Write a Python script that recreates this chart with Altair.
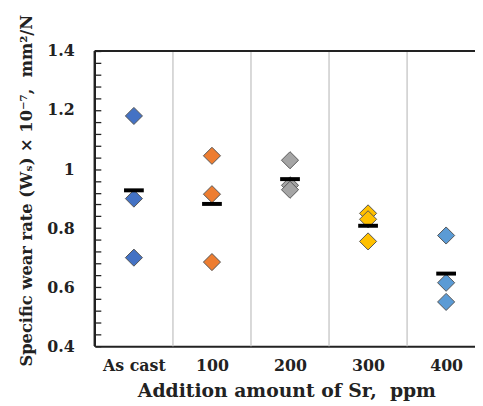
import altair as alt
import pandas as pd

categories = ["As cast", "100", "200", "300", "400"]
wear_rates = [
    [1.18, 0.90, 0.70],
    [1.045, 0.915, 0.685],
    [1.03, 0.945, 0.93],
    [0.85, 0.83, 0.755],
    [0.775, 0.615, 0.55],
]
means = [0.928, 0.882, 0.966, 0.808, 0.646]
colors = ["#4472C4", "#ED7D31", "#A5A5A5", "#FFC000", "#5B9BD5"]
minor_ticks = [round(0.4 + 0.04 * k, 2) for k in range(26)]
separators = [0.5, 1.5, 2.5, 3.5]

pts = pd.DataFrame(
    [{"idx": i, "cat": c, "rate": v} for i, c in enumerate(categories) for v in wear_rates[i]]
)
mdf = pd.DataFrame({"idx": list(range(5)), "cat": categories, "mean": means})
sep_df = pd.DataFrame({"sep": separators})

FONT = "DejaVu Serif"
W = 385
xscale = alt.Scale(domain=[-0.5, 4.37], nice=False, zero=False)
yscale = alt.Scale(domain=[0.4, 1.4], nice=False, zero=False)

label_expr = "['As cast','100','200','300','400'][datum.value]"

xaxis = alt.Axis(
    values=[0, 1, 2, 3, 4], labelExpr=label_expr, ticks=False, tickSize=0, grid=False,
    domainColor="#222", domainWidth=2, labelFont=FONT, labelFontWeight="bold",
    labelFontSize=16, labelColor="#222", labelPadding=12,
    title="Addition amount of Sr,\u00a0 ppm", titleFont=FONT, titleFontWeight="bold",
    titleFontSize=19, titleColor="#222", titleX=194, titleY=51,
    titleAlign="center", titleBaseline="alphabetic",
)
yaxis = alt.Axis(
    orient="left", offset=-6,
    values=minor_ticks, tickCount=40,
    labelExpr="abs(datum.value*5 - round(datum.value*5)) < 0.001 ? toString(round(datum.value*10)/10) : ''",
    labelOverlap=False,
    ticks=True, tickSize=6, tickWidth=1.3, tickColor="#222",
    grid=False, domain=False, labelFont=FONT, labelFontWeight="bold",
    labelFontSize=16, labelColor="#222", labelPadding=21,
    title="Specific wear rate (Wₛ) × 10⁻⁷,\u00a0 mm²/N", titleFont=FONT, titleFontWeight="bold",
    titleFontSize=16.5, titleColor="#222", titleX=-75, titleY=141, titleAngle=270,
    titleAlign="center", titleBaseline="middle",
)

grid = alt.Chart(sep_df).mark_rule(color="#cccccc", strokeWidth=1.5).encode(
    x=alt.X("sep:Q", scale=xscale, axis=xaxis),
)

left_border = alt.Chart(mdf).mark_rule(color="#222", strokeWidth=2).encode(
    x=alt.datum(-0.5),
)

top_border = alt.Chart(mdf).mark_rule(color="#222", strokeWidth=2).encode(
    y=alt.datum(1.4),
)

points = alt.Chart(pts).mark_point(
    shape="diamond", filled=True, size=300, stroke="#555555", strokeWidth=1, opacity=1
).encode(
    x=alt.X("idx:Q", scale=xscale, axis=xaxis),
    y=alt.Y("rate:Q", scale=yscale, axis=yaxis),
    color=alt.Color("cat:N", scale=alt.Scale(domain=categories, range=colors), legend=None),
)

mean_bars = alt.Chart(mdf).mark_tick(
    orient="horizontal", size=20, thickness=4, color="black", opacity=1
).encode(
    x=alt.X("idx:Q", scale=xscale, axis=xaxis),
    y=alt.Y("mean:Q", scale=yscale, axis=yaxis),
)

chart = alt.layer(grid, left_border, top_border, points, mean_bars).properties(
    width=W, height=299, autosize="none",
    padding={"left": 88, "top": 41, "right": 0, "bottom": 58},
).configure_view(stroke=None).configure(background="white")

chart.save("out.html", embed_options={"renderer": "svg", "actions": False})
